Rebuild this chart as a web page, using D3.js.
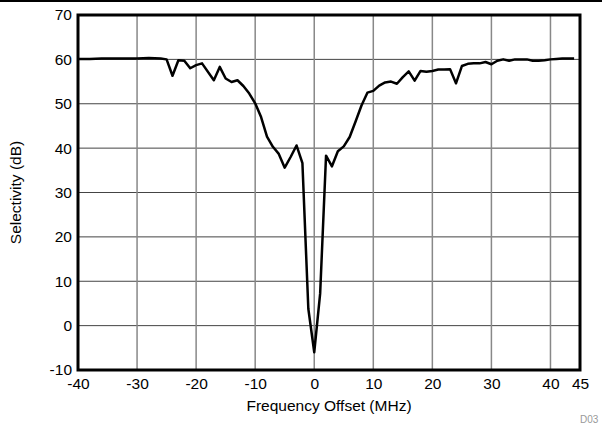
<!DOCTYPE html>
<html><head><meta charset="utf-8">
<script src="https://cdn.jsdelivr.net/npm/d3@7"></script>
<style>body{margin:0;background:#fff;}svg{display:block;}text{font-family:"Liberation Sans",Arial,sans-serif;}</style>
</head><body>
<svg id="c" width="602" height="427"></svg>
<script>
const freq = [-40,-38,-36,-34,-32,-30,-28,-26,-25,-24,-23,-22,-21,-20,-19,-17,-16,-15,-14,-13,-12,-11,-10,-9,-8,-7,-6,-5,-4,-3,-2,-1,0,1,2,3,4,5,6,7,8,9,10,11,12,13,14,15,16,17,18,19,20,21,22,23,24,25,26,27,28,29,30,31,32,33,34,35,36,37,38,39,40,41,42,43,44];
const selectivity = [60.1,60.1,60.2,60.2,60.2,60.2,60.3,60.2,60.0,56.3,59.8,59.7,58.0,58.7,59.1,55.3,58.3,55.7,54.9,55.3,54.0,52.3,50.1,47.0,42.6,40.3,38.7,35.6,38.0,40.6,36.6,3.8,-6.0,7.2,38.3,35.9,39.3,40.4,42.5,46.0,49.6,52.5,52.9,54.1,54.8,55.0,54.5,56.0,57.3,55.2,57.4,57.2,57.4,57.7,57.7,57.8,54.6,58.5,59.0,59.1,59.1,59.4,58.9,59.7,60.0,59.7,60.0,60.0,60.0,59.7,59.7,59.8,60.0,60.1,60.2,60.2,60.2];
const xTicks = [-40,-30,-20,-10,0,10,20,30,40,45];
const yTicks = [-10,0,10,20,30,40,50,60,70];

const svg = d3.select("#c");
const L=78, R=580, T=15, B=370;
const FS = 15.5;
const x = d3.scaleLinear().domain([-40,45]).range([L,R]);
const y = d3.scaleLinear().domain([-10,70]).range([B,T]);

svg.append("line").attr("x1",0).attr("x2",602).attr("y1",1).attr("y2",1).attr("stroke","#000").attr("stroke-width",2);

// grid
svg.append("g").selectAll("line").data(yTicks.filter(d=>d>-10&&d<70)).join("line")
  .attr("x1",L).attr("x2",R).attr("y1",d=>y(d)).attr("y2",d=>y(d))
  .attr("stroke","#444").attr("stroke-width",1);
svg.append("g").selectAll("line").data(xTicks.filter(d=>d>-40&&d<45)).join("line")
  .attr("x1",d=>x(d)).attr("x2",d=>x(d)).attr("y1",T).attr("y2",B)
  .attr("stroke","#888").attr("stroke-width",1.5);

// axes (labels only)
const fmt = d => String(d);
const xAxis = d3.axisBottom(x).tickValues(xTicks).tickSize(0).tickPadding(8).tickFormat(fmt);
const gx = svg.append("g").attr("transform",`translate(0,${B})`).call(xAxis);
gx.select(".domain").remove();
gx.selectAll("text").attr("font-size",FS).attr("fill","#000").attr("font-family","'Liberation Sans',Arial,sans-serif");
const yAxis = d3.axisLeft(y).tickValues(yTicks).tickSize(0).tickPadding(6).tickFormat(fmt);
const gy = svg.append("g").attr("transform",`translate(${L},0)`).call(yAxis);
gy.select(".domain").remove();
gy.selectAll("text").attr("font-size",FS).attr("fill","#000").attr("font-family","'Liberation Sans',Arial,sans-serif");

// data line
const line = d3.line().x((d,i)=>x(freq[i])).y(d=>y(d));
svg.append("path").datum(selectivity).attr("d",line).attr("fill","none")
  .attr("stroke","#000").attr("stroke-width",2.5).attr("stroke-linejoin","round");

// frame
svg.append("rect").attr("x",L).attr("y",T).attr("width",R-L).attr("height",B-T)
  .attr("fill","none").attr("stroke","#000").attr("stroke-width",3);

svg.append("text").attr("x",(L+R)/2).attr("y",411).attr("text-anchor","middle")
  .attr("font-size",FS).text("Frequency Offset (MHz)");
svg.append("text").attr("transform",`translate(21,${(T+B)/2}) rotate(-90)`).attr("text-anchor","middle")
  .attr("font-size",FS).text("Selectivity (dB)");
svg.append("text").attr("x",580).attr("y",423).attr("font-size",10).attr("fill","#999").text("D03");
</script>
</body></html>
